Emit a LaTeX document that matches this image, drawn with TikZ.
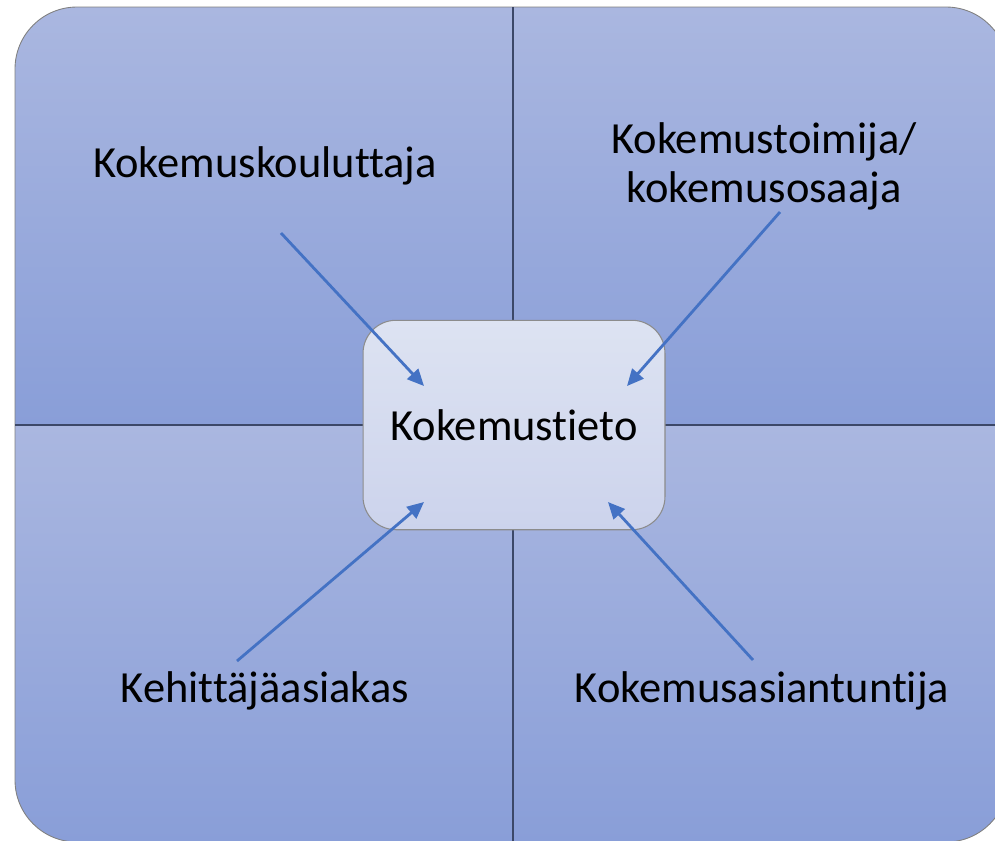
\documentclass[tikz,border=0pt]{standalone}
\usepackage{fontspec}
\setmainfont{Carlito}[Ligatures=NoCommon]
\usetikzlibrary{arrows.meta}
\definecolor{quadtop}{RGB}{170,183,224}
\definecolor{quadbot}{RGB}{137,158,216}
\definecolor{boxtop}{RGB}{221,227,242}
\definecolor{boxbot}{RGB}{204,211,236}
\definecolor{arrowblue}{RGB}{68,114,196}
\definecolor{divline}{RGB}{60,72,104}
\tikzset{
	quad/.style={top color=quadtop, bottom color=quadbot},
	label/.style={font=\fontsize{25.3}{27.5}\selectfont, align=center, anchor=base},
	tietobox/.style={draw=black!45, line width=0.6pt, rounded corners=0.66cm, top color=boxtop, bottom color=boxbot, minimum width=6.04cm, minimum height=4.19cm, font=\fontsize{25.3}{27.5}\selectfont},
	pointer/.style={draw=arrowblue, line width=1.6pt, -{Triangle[length=9.5pt, width=8.5pt]}}
}

\begin{document}
\begin{tikzpicture}[x=0.02cm, y=-0.02cm]
			%%%%% START %%%%%
			
			\useasboundingbox (0, 0) rectangle (995, 840);
			
			% four quadrants
			\begin{scope}
				\clip[rounded corners=1.24cm] (15, 7) rectangle (1008, 842);
				\shade[quad] (15, 7) rectangle (513, 425);
				\shade[quad] (513, 7) rectangle (1008, 425);
				\shade[quad] (15, 425) rectangle (513, 842);
				\shade[quad] (513, 425) rectangle (1008, 842);
			\end{scope}
			\draw[black!50, line width=0.5pt, rounded corners=1.24cm] (15, 7) rectangle (1008, 842);
			\draw[divline, line width=1.4pt] (513, 7) -- (513, 842);
			\draw[divline, line width=1.4pt] (15, 425) -- (1008, 425);
			
			% labels
			\node[label] (kouluttaja) at (265, 177) {Kokemuskouluttaja};
			\node[label] (toimija) at (764, 202) {Kokemustoimija/\\kokemusosaaja};
			\node[label] (kehittaja) at (265, 702) {Kehittäjäasiakas};
			\node[label] (asiantuntija) at (762, 702) {Kokemusasiantuntija};
			
			\node[tietobox] (tieto) at (514, 425) {Kokemustieto};
			
			% arrows
			\coordinate (kouluttajaS) at (281, 233);
			\coordinate (kouluttajaE) at (424, 386);
			\coordinate (toimijaS) at (780, 212);
			\coordinate (toimijaE) at (627, 386);
			\coordinate (kehittajaS) at (237, 661);
			\coordinate (kehittajaE) at (424, 502);
			\coordinate (asiantuntijaS) at (753, 660);
			\coordinate (asiantuntijaE) at (608, 502);
			
			\draw[pointer] (kouluttajaS) -- (kouluttajaE);
			\draw[pointer] (toimijaS) -- (toimijaE);
			\draw[pointer] (kehittajaS) -- (kehittajaE);
			\draw[pointer] (asiantuntijaS) -- (asiantuntijaE);
			
			%%%%% END %%%%%
\end{tikzpicture}
\end{document}
